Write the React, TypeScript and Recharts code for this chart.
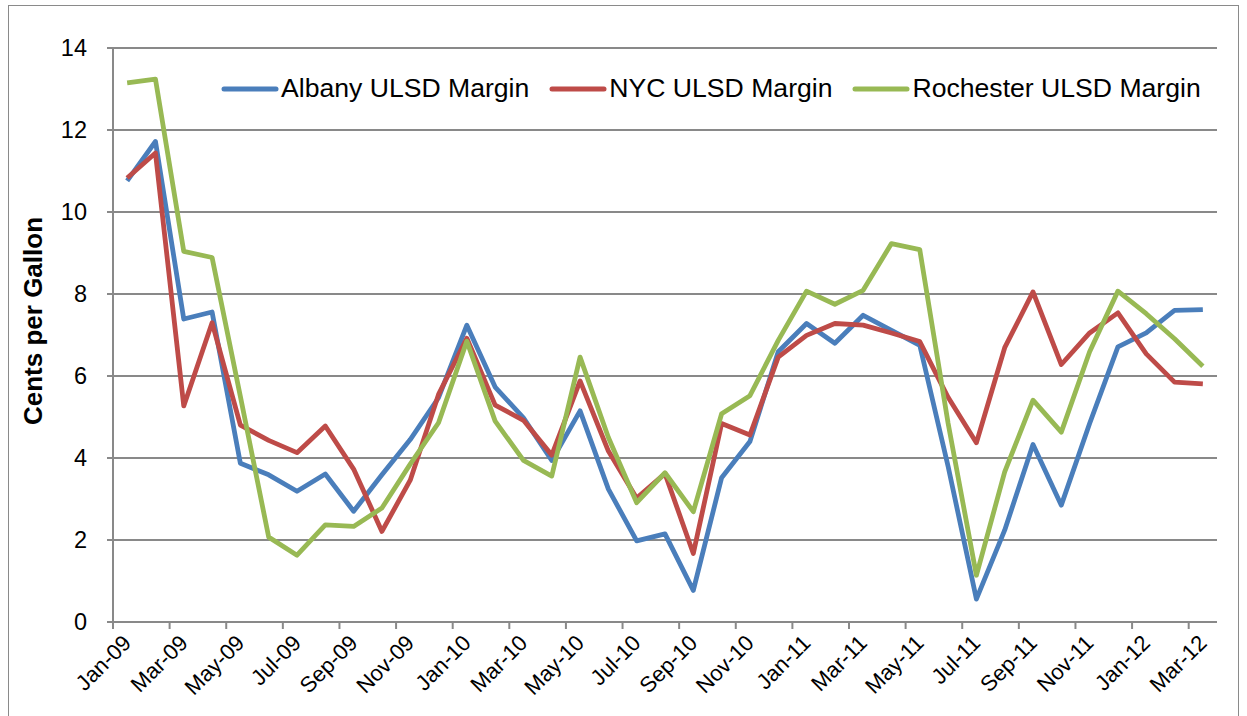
import { LineChart, Line, XAxis, YAxis, CartesianGrid, Legend } from "recharts";

const months = [
  "Jan-09", "Feb-09", "Mar-09", "Apr-09", "May-09", "Jun-09", "Jul-09", "Aug-09", "Sep-09", "Oct-09", "Nov-09", "Dec-09",
  "Jan-10", "Feb-10", "Mar-10", "Apr-10", "May-10", "Jun-10", "Jul-10", "Aug-10", "Sep-10", "Oct-10", "Nov-10", "Dec-10",
  "Jan-11", "Feb-11", "Mar-11", "Apr-11", "May-11", "Jun-11", "Jul-11", "Aug-11", "Sep-11", "Oct-11", "Nov-11", "Dec-11",
  "Jan-12", "Feb-12", "Mar-12",
];

const albany = [
  10.76, 11.72, 7.39, 7.56, 3.87, 3.59, 3.19, 3.61, 2.7, 3.59, 4.45, 5.47,
  7.24, 5.73, 4.98, 3.94, 5.15, 3.24, 1.98, 2.15, 0.77, 3.52, 4.4, 6.59,
  7.28, 6.8, 7.48, 7.11, 6.75, 3.8, 0.56, 2.24, 4.33, 2.85, 4.84, 6.71,
  7.05, 7.6, 7.62,
];

const nyc = [
  10.83, 11.44, 5.27, 7.3, 4.8, 4.43, 4.13, 4.78, 3.73, 2.21, 3.46, 5.55,
  6.92, 5.29, 4.92, 4.07, 5.88, 4.17, 3.02, 3.62, 1.67, 4.84, 4.56, 6.46,
  6.99, 7.28, 7.24, 7.05, 6.84, 5.48, 4.37, 6.69, 8.05, 6.28, 7.05, 7.54,
  6.54, 5.85, 5.81,
];

const rochester = [
  13.15, 13.24, 9.04, 8.89, 5.5, 2.07, 1.63, 2.37, 2.33, 2.78, 3.85, 4.86,
  6.85, 4.9, 3.94, 3.56, 6.46, 4.5, 2.91, 3.64, 2.69, 5.08, 5.52, 6.87,
  8.07, 7.75, 8.09, 9.23, 9.08, 4.85, 1.14, 3.66, 5.41, 4.63, 6.59, 8.07,
  7.52, 6.91, 6.24,
];

const yTicks = [0, 2, 4, 6, 8, 10, 12, 14];

const FONT = '"Liberation Sans", Arial, sans-serif';
const GRID = "#898989";
const WIDTH = 1247;
const HEIGHT = 716;
const PLOT_LEFT = 113;
const PLOT_RIGHT = 1217;
const halfBand = (PLOT_RIGHT - PLOT_LEFT) / months.length / 2;

// points sit in the middle of each month, ticks on the month boundaries
const data = months.map((month, i) => ({
  x: i + 0.5,
  month,
  albany: albany[i],
  nyc: nyc[i],
  rochester: rochester[i],
}));
const xTicks = months.map((_, i) => i).filter((i) => i % 2 === 0);

function MonthTick({ x, y, payload }: any) {
  const tx = x + halfBand;
  const ty = y + 8;
  return (
    <text
      x={tx}
      y={ty}
      textAnchor="end"
      dominantBaseline="central"
      transform={`rotate(-45 ${tx} ${ty})`}
      fontSize={22}
      fontFamily={FONT}
      fill="#000"
    >
      {months[payload.value]}
    </text>
  );
}

function AxisTitle({ viewBox }: any) {
  const cx = viewBox.x + 33;
  const cy = viewBox.y + viewBox.height / 2 - 14;
  return (
    <text
      x={cx}
      y={cy}
      textAnchor="middle"
      dominantBaseline="central"
      transform={`rotate(-90 ${cx} ${cy})`}
      fontSize={26}
      fontWeight="bold"
      fontFamily={FONT}
      fill="#000"
    >
      Cents per Gallon
    </text>
  );
}

function LegendContent({ payload }: any) {
  return (
    <div style={{ display: "flex", alignItems: "center", fontFamily: FONT, fontSize: 26.6, color: "#000" }}>
      {(payload || []).map((item: any) => (
        <div key={item.value} style={{ display: "flex", alignItems: "center", marginRight: 20 }}>
          <svg width={58} height={10} style={{ marginRight: 2 }}>
            <line x1={3} y1={5} x2={55} y2={5} stroke={item.color} strokeWidth={5} strokeLinecap="round" />
          </svg>
          <span>{item.value}</span>
        </div>
      ))}
    </div>
  );
}

export default function App() {
  return (
    <div style={{ position: "absolute", left: 0, top: 0, width: WIDTH, height: HEIGHT, background: "#fff" }}>
      <div
        style={{
          position: "absolute",
          left: 8,
          top: 5,
          width: 1231,
          height: 730,
          border: "1px solid #8a8a8a",
          boxSizing: "border-box",
        }}
      />
      <LineChart
        width={WIDTH}
        height={HEIGHT}
        data={data}
        margin={{ top: 48, right: WIDTH - PLOT_RIGHT, left: 0, bottom: 0 }}
      >
        <CartesianGrid vertical={false} stroke={GRID} strokeWidth={2} />
        <XAxis
          type="number"
          dataKey="x"
          domain={[0, months.length]}
          ticks={xTicks}
          interval={0}
          height={94}
          tickSize={7}
          axisLine={{ stroke: GRID, strokeWidth: 2 }}
          tickLine={{ stroke: GRID, strokeWidth: 2 }}
          tick={<MonthTick />}
        />
        <YAxis
          domain={[0, 14]}
          ticks={yTicks}
          interval={0}
          width={PLOT_LEFT}
          tickSize={6}
          tickMargin={20}
          axisLine={{ stroke: GRID, strokeWidth: 2 }}
          tickLine={{ stroke: GRID, strokeWidth: 2 }}
          tick={{ fontSize: 23.5, fill: "#000", fontFamily: FONT }}
          label={{ content: <AxisTitle /> }}
        />
        <Legend
          layout="horizontal"
          verticalAlign="middle"
          align="center"
          content={<LegendContent />}
          wrapperStyle={{ top: 73, left: 221, width: 1010 }}
        />
        <Line
          type="linear"
          dataKey="albany"
          name="Albany ULSD Margin"
          stroke="#4A7EBB"
          strokeWidth={4.8}
          strokeLinejoin="round"
          dot={false}
          isAnimationActive={false}
        />
        <Line
          type="linear"
          dataKey="nyc"
          name="NYC ULSD Margin"
          stroke="#BE4B48"
          strokeWidth={4.8}
          strokeLinejoin="round"
          dot={false}
          isAnimationActive={false}
        />
        <Line
          type="linear"
          dataKey="rochester"
          name="Rochester ULSD Margin"
          stroke="#98B954"
          strokeWidth={4.8}
          strokeLinejoin="round"
          dot={false}
          isAnimationActive={false}
        />
      </LineChart>
    </div>
  );
}
